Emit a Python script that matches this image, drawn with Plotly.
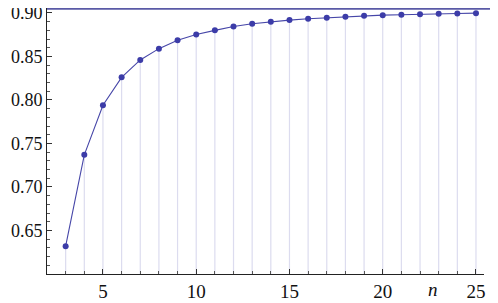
import plotly.graph_objects as go

n_values = list(range(3, 26))
a_values = [0.632, 0.737, 0.794, 0.826, 0.846, 0.859, 0.8687, 0.8753, 0.8800,
            0.8845, 0.8876, 0.8899, 0.8918, 0.8933, 0.8944, 0.8956, 0.8968,
            0.8975, 0.8979, 0.8986, 0.8990, 0.8994, 0.8998]
limit_value = 0.9048
y_ticks = [0.65, 0.70, 0.75, 0.80, 0.85, 0.90]
x_ticks = [5, 10, 15, 20, 25]

Y_MIN, Y_MAX = 0.60, 0.9057
X_MIN, X_MAX = 2.0, 25.43
FONT = "Liberation Serif, DejaVu Serif, serif"

stem_x, stem_y = [], []
for n, a in zip(n_values, a_values):
    stem_x += [n, n, None]
    stem_y += [Y_MIN, a, None]

fig = go.Figure()
fig.add_trace(go.Scatter(x=stem_x, y=stem_y, mode="lines",
                         line=dict(color="#dcdcef", width=1.2),
                         hoverinfo="skip", showlegend=False))
fig.add_trace(go.Scatter(x=n_values, y=a_values, mode="lines+markers",
                         line=dict(color="#4646a8", width=1.1),
                         marker=dict(color="#3c3ca8", size=6),
                         showlegend=False, cliponaxis=False))
fig.add_shape(type="line", xref="paper", yref="y", x0=0, x1=1.025,
              y0=limit_value, y1=limit_value,
              line=dict(color="#5a5aa6", width=2))
fig.add_annotation(text="<i>n</i>", x=22.7, y=0, xref="x", yref="paper",
                   yanchor="top", yshift=-3, showarrow=False,
                   font=dict(family=FONT, size=19, color="#111"))

# page has an 8px body margin; figure is sized/offset to compensate
fig.update_layout(
    width=490, height=295,
    margin=dict(l=39, r=14, t=0, b=29),
    plot_bgcolor="white", paper_bgcolor="white",
    font=dict(family=FONT, size=19, color="#111"),
    xaxis=dict(range=[X_MIN, X_MAX], tickvals=x_ticks, ticks="inside",
               ticklen=5, tickcolor="#333", showgrid=False, zeroline=False,
               showline=True, linecolor="#222", linewidth=1, automargin=False,
               tickfont=dict(size=19), ticklabeloverflow="allow",
               minor=dict(dtick=1, ticks="inside", ticklen=3, tickcolor="#555")),
    yaxis=dict(range=[Y_MIN, Y_MAX], tickvals=y_ticks, tickformat=".2f",
               ticks="inside", ticklen=5, tickcolor="#333", showgrid=False,
               zeroline=False, showline=True, linecolor="#222", linewidth=1,
               automargin=False, tickfont=dict(size=18),
               ticklabeloverflow="allow",
               minor=dict(dtick=0.01, tick0=0.6, ticks="inside", ticklen=3,
                          tickcolor="#555")),
)

fig.write_html("out.html")
